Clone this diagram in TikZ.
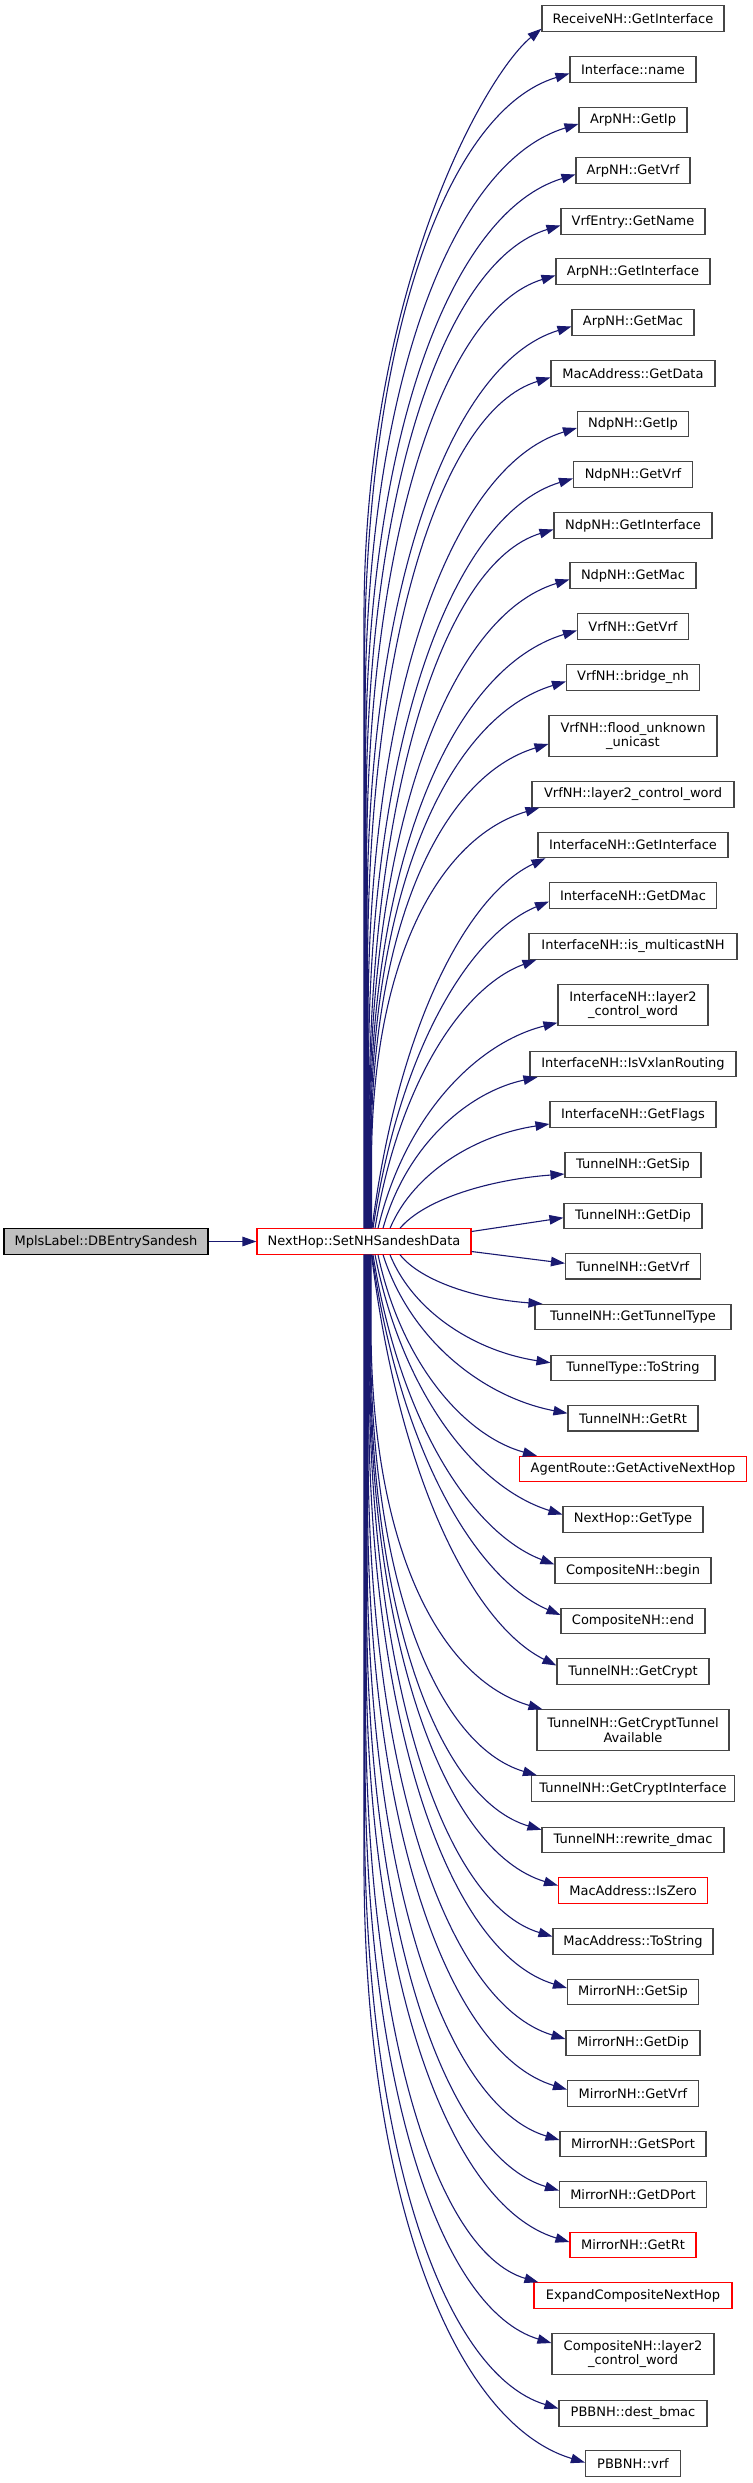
\documentclass[tikz,border=0pt]{standalone}
\usepackage{fontspec}
\setmainfont{DejaVu Sans}
\usetikzlibrary{arrows.meta,calc}
\definecolor{edgeblue}{RGB}{25,25,112}
\definecolor{boxgray}{RGB}{70,70,70}
\definecolor{rootfill}{RGB}{191,191,191}
\definecolor{nodered}{RGB}{255,0,0}
\tikzset{
  box/.style={draw=boxgray, fill=white, line width=1.1pt, minimum height=25.3pt,
    inner xsep=4pt, inner ysep=2pt, font=\fontsize{13}{14.5}\selectfont},
  redbox/.style={box, draw=nodered},
  rootbox/.style={box, draw=black, fill=rootfill},
  twoline/.style={align=center, minimum height=40.3pt},
  edge/.style={draw=edgeblue, line width=1.1pt, -{Triangle[length=14pt,width=9.5pt]}}
}
% far edge: vertical run, then a curve
\newcommand\cedge[7]{%
  \draw[edge] ($(nh.#2)+(#1-364,0)$) -- (#1,#3) .. controls (#1,#4) and (#5,#6) .. (#7);}
% near edge: one curve leaving at a slant
\newcommand\nedge[7]{%
  \draw[edge] ($(nh.#2)+(#1-364,0)$) .. controls (#3,#4) and (#5,#6) .. (#7);}
\begin{document}
\begin{tikzpicture}[x=1pt,y=-1pt]
\useasboundingbox (0,0) rectangle (752,2483);
% left nodes
\node[rootbox, minimum width=204pt] (mpls) at (106,1241.5) {MplsLabel::DBEntrySandesh};
\node[redbox, minimum width=214pt] (nh) at (364,1241.5) {NextHop::SetNHSandeshData};
% right column
\node[box, minimum width=182pt] (rni) at (633,18.5) {ReceiveNH::GetInterface};
\node[box, minimum width=126pt] (ifn) at (633,69.5) {Interface::name};
\node[box, minimum width=108pt] (aip) at (633,120) {ArpNH::GetIp};
\node[box, minimum width=114pt] (avrf) at (633,170.5) {ArpNH::GetVrf};
\node[box, minimum width=144pt] (ven) at (633,221.5) {VrfEntry::GetName};
\node[box, minimum width=154pt] (aif) at (633,271.5) {ArpNH::GetInterface};
\node[box, minimum width=122pt] (amac) at (633,322.5) {ArpNH::GetMac};
\node[box, minimum width=164pt] (mgd) at (633,373.5) {MacAddress::GetData};
\node[box, minimum width=111pt] (nip) at (633,424) {NdpNH::GetIp};
\node[box, minimum width=119pt] (nvrf) at (633,474.5) {NdpNH::GetVrf};
\node[box, minimum width=158pt] (nif) at (633,525.5) {NdpNH::GetInterface};
\node[box, minimum width=126pt] (nmac) at (633,575.5) {NdpNH::GetMac};
\node[box, minimum width=111pt] (vvrf) at (633,626.5) {VrfNH::GetVrf};
\node[box, minimum width=133pt] (vbr) at (633,677.5) {VrfNH::bridge\_nh};
\node[box, twoline, minimum width=168pt] (vflood) at (633,736) {VrfNH::flood\_unknown\\\_unicast};
\node[box, minimum width=202pt] (vl2) at (633,794.5) {VrfNH::layer2\_control\_word};
\node[box, minimum width=190pt] (iif) at (633,845) {InterfaceNH::GetInterface};
\node[box, minimum width=167pt] (idmac) at (633,895.5) {InterfaceNH::GetDMac};
\node[box, minimum width=208pt] (imc) at (633,946.5) {InterfaceNH::is\_multicastNH};
\node[box, twoline, minimum width=150pt] (il2) at (633,1005) {InterfaceNH::layer2\\\_control\_word};
\node[box, minimum width=206pt] (ivx) at (633,1064) {InterfaceNH::IsVxlanRouting};
\node[box, minimum width=166pt] (iflags) at (633,1114.5) {InterfaceNH::GetFlags};
\node[box, minimum width=136pt] (tsip) at (633,1165) {TunnelNH::GetSip};
\node[box, minimum width=138pt] (tdip) at (633,1215.7) {TunnelNH::GetDip};
\node[box, minimum width=135pt] (tvrf) at (633,1266.3) {TunnelNH::GetVrf};
\node[box, minimum width=196pt] (ttt) at (633,1317) {TunnelNH::GetTunnelType};
\node[box, minimum width=164pt] (tts) at (633,1367.7) {TunnelType::ToString};
\node[box, minimum width=130pt] (trt) at (633,1418.3) {TunnelNH::GetRt};
\node[redbox, minimum width=227pt] (agr) at (633,1469) {AgentRoute::GetActiveNextHop};
\node[box, minimum width=140pt] (nht) at (633,1519.5) {NextHop::GetType};
\node[box, minimum width=156pt] (cbeg) at (633,1570.5) {CompositeNH::begin};
\node[box, minimum width=144pt] (cend) at (633,1621) {CompositeNH::end};
\node[box, minimum width=152pt] (tcr) at (633,1671.5) {TunnelNH::GetCrypt};
\node[box, twoline, minimum width=192pt] (tcta) at (633,1730) {TunnelNH::GetCryptTunnel\\Available};
\node[box, minimum width=203pt] (tci) at (633,1788.5) {TunnelNH::GetCryptInterface};
\node[box, minimum width=182pt] (trd) at (633,1840) {TunnelNH::rewrite\_dmac};
\node[redbox, minimum width=149pt] (miz) at (633,1890.5) {MacAddress::IsZero};
\node[box, minimum width=160pt] (mts) at (633,1941.5) {MacAddress::ToString};
\node[box, minimum width=131pt] (msip) at (633,1992) {MirrorNH::GetSip};
\node[box, minimum width=134pt] (mdip) at (633,2043) {MirrorNH::GetDip};
\node[box, minimum width=131pt] (mvrf) at (633,2093.5) {MirrorNH::GetVrf};
\node[box, minimum width=146pt] (msp) at (633,2144) {MirrorNH::GetSPort};
\node[box, minimum width=147pt] (mdp) at (633,2194.5) {MirrorNH::GetDPort};
\node[redbox, minimum width=126pt] (mrt) at (633,2245) {MirrorNH::GetRt};
\node[redbox, minimum width=198pt] (ecn) at (633,2295.5) {ExpandCompositeNextHop};
\node[box, twoline, minimum width=162pt] (cl2) at (633,2354) {CompositeNH::layer2\\\_control\_word};
\node[box, minimum width=148pt] (pdb) at (633,2413.5) {PBBNH::dest\_bmac};
\node[box, minimum width=95pt] (pvrf) at (633,2463.5) {PBBNH::vrf};
% edges
\draw[edge] (mpls) -- (nh);
\cedge{364}{north}{618.5}{288.5}{485}{75}{$(rni.south west)+(0,-3)$}
\cedge{364.5}{north}{669.5}{339.5}{446.7}{110.5}{$(ifn.west)+(0,4)$}
\cedge{365}{north}{720}{390}{450.6}{162.5}{$(aip.west)+(0,4)$}
\cedge{365.5}{north}{770.5}{440.5}{449.7}{212.4}{$(avrf.west)+(0,4)$}
\cedge{366}{north}{821.5}{491.5}{444}{260.6}{$(ven.west)+(0,4)$}
\cedge{366.5}{north}{871.5}{541.5}{442.3}{309.6}{$(aif.west)+(0,4)$}
\cedge{367}{north}{922.5}{592.5}{449}{363.4}{$(amac.west)+(0,4)$}
\cedge{367.5}{north}{973.5}{643.5}{440.9}{410.5}{$(mgd.west)+(0,4)$}
\cedge{368}{north}{1024}{694}{451.8}{465.7}{$(nip.west)+(0,4)$}
\cedge{368.5}{north}{1074.5}{744.5}{450.5}{515.4}{$(nvrf.west)+(0,4)$}
\cedge{369}{north}{1123.5}{794.5}{443}{562.8}{$(nif.west)+(0,4)$}
\cedge{369.5}{north}{1131}{825.5}{449.7}{615.6}{$(nmac.west)+(0,4)$}
\cedge{370}{north}{1138.5}{856.9}{453}{667.9}{$(vvrf.west)+(0,4)$}
\cedge{370.5}{north}{1146.3}{888.5}{448.9}{716.8}{$(vbr.west)+(0,4)$}
\cedge{371}{north}{1155}{924.6}{442.2}{776}{$(vflood.west)+(0,8)$}
\cedge{371.5}{north}{1163.5}{960.5}{438.9}{837.5}{$(vl2.south west)+(8,0)$}
\nedge{372}{north}{398.1}{1024.7}{467.7}{894.8}{$(iif.south west)+(8,0)$}
\nedge{373}{north}{399.5}{1048.8}{470.1}{934.2}{$(idmac.west)+(0,6)$}
\nedge{375}{north}{399.3}{1080.5}{464.1}{986.1}{$(imc.south west)+(8,0)$}
\nedge{378}{north}{405}{1115.1}{477}{1042.7}{$(il2.south west)+(0,-3)$}
\nedge{383}{north}{406.3}{1145.1}{468.3}{1091.9}{$(ivx.south west)+(8,0)$}
\nedge{390}{north}{414}{1171.2}{478}{1134.5}{$(iflags.west)+(0,9.5)$}
\nedge{400}{north}{424.8}{1198.7}{490.8}{1179.5}{$(tsip.west)+(0,9)$}
\draw[edge] ([yshift=10pt]nh.east) -- ($(tdip.west)+(0,2)$);
\draw[edge] ([yshift=-10pt]nh.east) -- ($(tvrf.west)+(0,-3)$);
\nedge{400}{south}{421.5}{1281.8}{478.7}{1299.3}{$(ttt.north west)+(8,0)$}
\nedge{390}{south}{414}{1313.9}{478}{1351.8}{$(tts.west)+(0,-5)$}
\nedge{383}{south}{410.8}{1341.7}{484.8}{1397.4}{$(trt.west)+(0,-5)$}
\nedge{378}{south}{401.9}{1365.4}{465.7}{1436.1}{$(agr.north west)+(18,0)$}
\nedge{375}{south}{403.2}{1397.3}{478.4}{1488.5}{$(nht.west)+(0,-5)$}
\nedge{373}{south}{400.3}{1424.8}{473.1}{1533.5}{$(cbeg.west)+(0,-6)$}
\nedge{372}{south}{400.4}{1452.6}{476}{1578.9}{$(cend.west)+(0,-6)$}
\nedge{371.5}{south}{399.3}{1480.4}{473.5}{1624.4}{$(tcr.west)+(0,-6)$}
\cedge{371}{south}{1325.4}{1548}{439.8}{1679}{$(tcta.north west)+(6,0)$}
\cedge{370.5}{south}{1334.2}{1584.1}{437.3}{1745.8}{$(tci.north west)+(6,0)$}
\cedge{370}{south}{1342}{1616}{438.8}{1799.4}{$(trd.north west)+(0,3)$}
\cedge{369.5}{south}{1349.5}{1647}{445.1}{1851.5}{$(miz.west)+(0,-5)$}
\cedge{369}{south}{1357.1}{1678.5}{442.6}{1903.4}{$(mts.west)+(0,-5)$}
\cedge{368.5}{south}{1392}{1722}{448.1}{1952.2}{$(msip.west)+(0,-4)$}
\cedge{368}{south}{1443}{1773}{447.2}{2003.4}{$(mdip.west)+(0,-4)$}
\cedge{367.5}{south}{1493.5}{1823.5}{447.5}{2053.5}{$(mvrf.west)+(0,-4)$}
\cedge{367}{south}{1544}{1874}{444.2}{2105.3}{$(msp.west)+(0,-4)$}
\cedge{366.5}{south}{1594.5}{1924.5}{443.7}{2155.8}{$(mdp.west)+(0,-4)$}
\cedge{366}{south}{1645}{1975}{447.6}{2205.3}{$(mrt.west)+(0,-3)$}
\cedge{365.5}{south}{1695.5}{2025.5}{434.9}{2251.6}{$(ecn.north west)+(5,0)$}
\cedge{365}{south}{1754}{2084}{439.8}{2309.3}{$(cl2.west)+(0,-11)$}
\cedge{364.5}{south}{1813.5}{2143.5}{442.3}{2373.5}{$(pdb.west)+(0,-5)$}
\cedge{364}{south}{1863.5}{2193.5}{452.6}{2422.6}{$(pvrf.west)+(0,-1)$}
\end{tikzpicture}
\end{document}
